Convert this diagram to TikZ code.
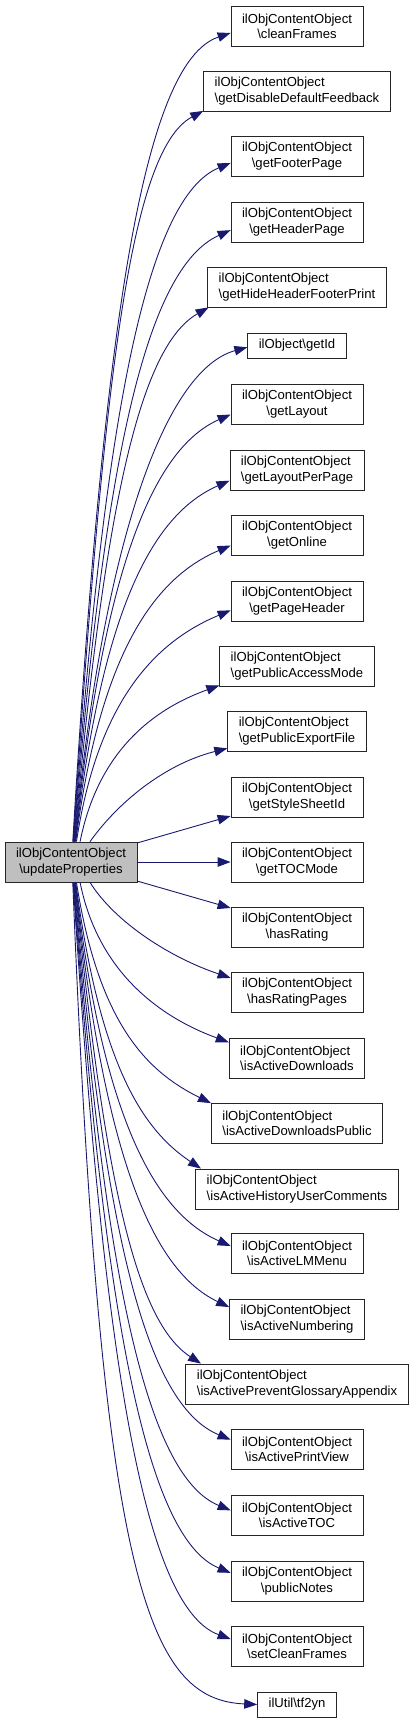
\documentclass[tikz,border=0pt]{standalone}
\usepackage{fontspec}
\setmainfont{Liberation Sans}
\usepackage{tikz}
\usetikzlibrary{arrows.meta}
\definecolor{kante}{HTML}{191970}
\definecolor{grau}{HTML}{BFBFBF}
\newcommand{\bksl}{\textbackslash}

\begin{document}
\begin{tikzpicture}[x=1pt,y=-1pt,
  fn/.style={draw=black!85,line width=0.8pt,rectangle,inner xsep=11pt,inner ysep=0pt,
    minimum height=40pt,align=center,font=\fontsize{13.1}{15.3}\selectfont},
  fnwide/.style={fn,align=left},
  fnone/.style={fn,minimum height=25pt},
  cur/.style={fn,fill=grau},
  call/.style={-{Triangle[length=13pt,width=9.5pt]},kante,line width=0.9pt}]
  \useasboundingbox (0,0) rectangle (415,1723);
  \node[cur] (upd) at (71,862) {ilObjContentObject\\\bksl updateProperties};
  \node[fn] (clean) at (297,26) {ilObjContentObject\\\bksl cleanFrames};
  \node[fnwide] (disfb) at (297,91) {ilObjContentObject\\\bksl getDisableDefaultFeedback};
  \node[fn] (footer) at (297,156) {ilObjContentObject\\\bksl getFooterPage};
  \node[fn] (header) at (297,222) {ilObjContentObject\\\bksl getHeaderPage};
  \node[fnwide] (hidehf) at (297,287) {ilObjContentObject\\\bksl getHideHeaderFooterPrint};
  \node[fnone] (getid) at (297,345.5) {ilObject\bksl getId};
  \node[fn] (layout) at (297,404) {ilObjContentObject\\\bksl getLayout};
  \node[fnwide] (layoutpp) at (297,470) {ilObjContentObject\\\bksl getLayoutPerPage};
  \node[fn] (online) at (297,535) {ilObjContentObject\\\bksl getOnline};
  \node[fn] (pghead) at (297,601) {ilObjContentObject\\\bksl getPageHeader};
  \node[fnwide] (pubacc) at (297,666) {ilObjContentObject\\\bksl getPublicAccessMode};
  \node[fnwide] (pubexp) at (297,731) {ilObjContentObject\\\bksl getPublicExportFile};
  \node[fn] (style) at (297,797) {ilObjContentObject\\\bksl getStyleSheetId};
  \node[fn] (tocmode) at (297,862) {ilObjContentObject\\\bksl getTOCMode};
  \node[fn] (rating) at (297,927) {ilObjContentObject\\\bksl hasRating};
  \node[fn] (ratingpg) at (297,992) {ilObjContentObject\\\bksl hasRatingPages};
  \node[fnwide] (dl) at (297,1058) {ilObjContentObject\\\bksl isActiveDownloads};
  \node[fnwide] (dlpub) at (297,1123) {ilObjContentObject\\\bksl isActiveDownloadsPublic};
  \node[fnwide] (histuc) at (297,1189) {ilObjContentObject\\\bksl isActiveHistoryUserComments};
  \node[fn] (lmmenu) at (297,1253) {ilObjContentObject\\\bksl isActiveLMMenu};
  \node[fnwide] (numbering) at (297,1319) {ilObjContentObject\\\bksl isActiveNumbering};
  \node[fnwide] (glossary) at (297,1384) {ilObjContentObject\\\bksl isActivePreventGlossaryAppendix};
  \node[fn] (printview) at (297,1449) {ilObjContentObject\\\bksl isActivePrintView};
  \node[fn] (activetoc) at (297,1515) {ilObjContentObject\\\bksl isActiveTOC};
  \node[fn] (notes) at (297,1581) {ilObjContentObject\\\bksl publicNotes};
  \node[fn] (setclean) at (297,1646) {ilObjContentObject\\\bksl setCleanFrames};
  \node[fnone] (tfyn) at (297,1704.5) {ilUtil\bksl tf2yn};

  \draw[call] (upd.85) .. controls +(30,-500) and +(-90,30) .. (clean.186);
  \draw[call] (upd.84) .. controls +(30,-450) and +(-75,40) .. (disfb.192);
  \draw[call] (upd.83) .. controls +(30,-420) and +(-85,35) .. (footer.186);
  \draw[call] (upd.82) .. controls +(30,-380) and +(-85,38) .. (header.187);
  \draw[call] (upd.81) .. controls +(30,-330) and +(-70,40) .. (hidehf.193);
  \draw[call] (upd.80) .. controls +(30,-310) and +(-80,22) .. (getid.182);
  \draw[call] (upd.79) .. controls +(28,-265) and +(-80,35) .. (layout.189);
  \draw[call] (upd.78) .. controls +(26,-225) and +(-80,35) .. (layoutpp.189);
  \draw[call] (upd.77) .. controls +(24,-185) and +(-78,33) .. (online.189);
  \draw[call] (upd.75) .. controls +(22,-145) and +(-72,30) .. (pghead.188);
  \draw[call] (upd.66) .. controls +(20,-100) and +(-55,20) .. (pubacc.194);
  \draw[call] (upd.47) .. controls +(30,-42) and +(-60,15) .. (pubexp.194);
  \draw[call] (upd) -- (style);
  \draw[call] (upd) -- (tocmode);
  \draw[call] (upd) -- (rating);
  \draw[call] (upd.313) .. controls +(25,40) and +(-60,-20) .. (ratingpg.168);
  \draw[call] (upd.294) .. controls +(20,100) and +(-55,-20) .. (dl.167);
  \draw[call] (upd.285) .. controls +(22,140) and +(-65,-32) .. (dlpub.167);
  \draw[call] (upd.283) .. controls +(24,180) and +(-60,-40) .. (histuc.168);
  \draw[call] (upd.282) .. controls +(26,225) and +(-80,-35) .. (lmmenu.174);
  \draw[call] (upd.281) .. controls +(28,265) and +(-80,-38) .. (numbering.170);
  \draw[call] (upd.280) .. controls +(30,300) and +(-65,-42) .. (glossary.168);
  \draw[call] (upd.279) .. controls +(30,350) and +(-85,-35) .. (printview.172);
  \draw[call] (upd.278) .. controls +(30,390) and +(-85,-35) .. (activetoc.176);
  \draw[call] (upd.277) .. controls +(30,430) and +(-85,-35) .. (notes.173);
  \draw[call] (upd.276) .. controls +(30,470) and +(-88,-32) .. (setclean.174);
  \draw[call] (upd.275) .. controls +(28,700) and +(-110,-5) .. (tfyn.west);
\end{tikzpicture}
\end{document}
